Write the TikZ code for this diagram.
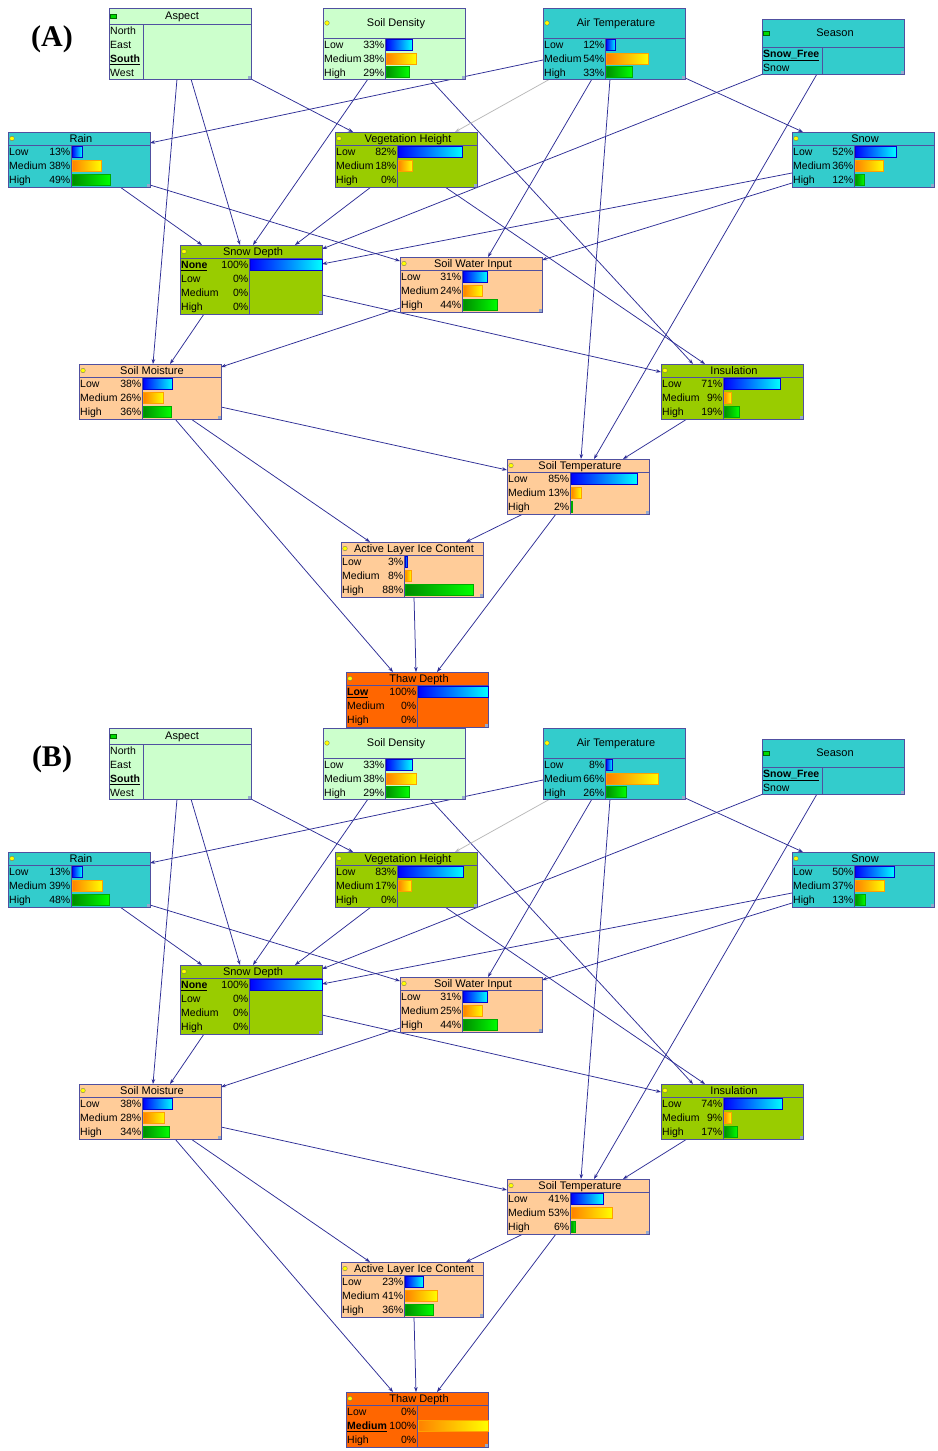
\documentclass[tikz,border=0pt]{standalone}
\usepackage{fontspec}
\setmainfont{Liberation Sans}
\newfontfamily\panelfont{Liberation Serif}
\usetikzlibrary{arrows.meta}
\pgfdeclarelayer{back}
\pgfdeclarelayer{bg}
\pgfsetlayers{back,bg,main}
\definecolor{cLG}{RGB}{204,255,204}
\definecolor{cTe}{RGB}{51,204,204}
\definecolor{cOl}{RGB}{153,204,0}
\definecolor{cPe}{RGB}{255,204,153}
\definecolor{cOr}{RGB}{255,102,0}
\definecolor{cBd}{RGB}{80,80,160}
\definecolor{cEd}{RGB}{45,45,150}
\definecolor{cGr}{RGB}{185,185,185}
\definecolor{cCorner}{RGB}{150,170,205}
\definecolor{bB1}{RGB}{0,0,255}
\definecolor{bB2}{RGB}{0,255,255}
\definecolor{bBd}{RGB}{0,0,210}
\definecolor{bO1}{RGB}{255,128,0}
\definecolor{bO2}{RGB}{255,255,0}
\definecolor{bOd}{RGB}{255,160,0}
\definecolor{bG1}{RGB}{0,140,0}
\definecolor{bG2}{RGB}{0,255,0}
\definecolor{bGd}{RGB}{0,170,0}
\definecolor{cYel}{RGB}{255,255,0}
\definecolor{cGrn}{RGB}{0,220,0}
\newcounter{rc}
\tikzset{
  bnbox/.style={draw=cBd, line width=0.9pt, minimum width=142pt, inner sep=0pt, outer sep=0pt, anchor=north west},
  bnline/.style={draw=cBd, line width=0.9pt},
  txt/.style={font=\fontsize{10.5}{12}\selectfont, inner sep=0pt, text height=7.6pt, text depth=0pt, text=black},
  ttl/.style={font=\fontsize{11}{13}\selectfont, inner sep=0pt, text height=7.8pt, text depth=0pt, text=black},
  icony/.style={circle, fill=cYel, draw=black!60, line width=0.3pt, minimum size=4.6pt, inner sep=0pt},
  icong/.style={rectangle, fill=cGrn, draw=green!40!black, line width=0.3pt, minimum width=6pt, minimum height=3.6pt, inner sep=0pt},
  lnk/.style={draw=cEd, line width=0.75pt, -{Stealth[length=5pt,width=3.6pt]}},
  glnk/.style={lnk, draw=cGr},
  barb/.style={draw=bBd, line width=0.8pt, left color=bB1, right color=bB2},
  baro/.style={draw=bOd, line width=0.8pt, left color=bO1, right color=bO2},
  barg/.style={draw=bGd, line width=0.8pt, left color=bG1, right color=bG2},
}
% #1 icon, #2 name, #3 x, #4 y, #5 h, #6 title h, #7 label column, #8 fill, #9 title
\newcommand\bnode[9][y]{%
  \node[bnbox, fill=#8, minimum height=#5pt] (#2) at (#3,#4) {};
  \draw[bnline] (#3,#4+#6) -- (#3+142,#4+#6);
  \draw[bnline] (#3+#7,#4+#6) -- (#3+#7,#4+#5);
  \node[ttl] (#2t) at (#3+73,#4+#6/2) {#9};
  \node[icon#1] (#2i) at (#3+4,#4+#6/2) {};
  \fill[cCorner] (#3+138.5,#4+#5-3.5) rectangle (#3+141.5,#4+#5-0.5);
}
% label only row: x, top, label
\newcommand\lrow[3]{%
  \stepcounter{rc}%
  \node[txt,anchor=west] (rl\arabic{rc}) at (#1+1,#2+7) {#3};
}
% row with value: x, col, top, label, pct, kind
\newcommand\brow[6]{%
  \stepcounter{rc}%
  \node[txt,anchor=west] (rl\arabic{rc}) at (#1+1,#3+7) {#4};
  \node[txt,anchor=east] (rp\arabic{rc}) at (#2-0.5,#3+7) {#5\%};
  \pgfmathtruncatemacro\barok{(#5)>0}%
  \ifnum\barok=1 \path[bar#6] (#2+1,#3+1.5) rectangle ({#2+1+(#5)/100*(#1+141-#2)},#3+12.5);\fi
}
% three rows: x, col, top, rowh, p1, p2, p3
\newcommand\tri[7]{%
  \brow{#1}{#2}{#3}{Low}{#5}{b}
  \brow{#1}{#2}{#3+#4}{Medium}{#6}{o}
  \brow{#1}{#2}{#3+2*#4}{High}{#7}{g}
}
\newcommand\alledges[1]{%
  \draw[lnk] ([shift={(82,71)}]asp#1.north west) -- ([shift={(60,0)}]sd#1.north west);
  \draw[lnk] ([shift={(68,71)}]asp#1.north west) -- ([shift={(74,0)}]sm#1.north west);
  \draw[lnk] ([shift={(142,71)}]asp#1.north west) -- ([shift={(18,0)}]veg#1.north west);
  \draw[lnk] ([shift={(45,71)}]sden#1.north west) -- ([shift={(73,0)}]sd#1.north west);
  \draw[lnk] ([shift={(107,71)}]sden#1.north west) -- ([shift={(32,0)}]ins#1.north west);
  \draw[lnk] ([shift={(0,52)}]air#1.north west) -- ([shift={(142,11)}]rain#1.north west);
  \draw[glnk] ([shift={(7,71)}]air#1.north west) -- ([shift={(120,0)}]veg#1.north west);
  \draw[lnk] ([shift={(140,69)}]air#1.north west) -- ([shift={(11,0)}]snow#1.north west);
  \draw[lnk] ([shift={(49,71)}]air#1.north west) -- ([shift={(88,0)}]swi#1.north west);
  \draw[lnk] ([shift={(67,71)}]air#1.north west) -- ([shift={(74,0)}]st#1.north west);
  \draw[lnk] ([shift={(1,55)}]sea#1.north west) -- ([shift={(142,4)}]sd#1.north west);
  \draw[lnk] ([shift={(55,55)}]sea#1.north west) -- ([shift={(87,0)}]st#1.north west);
  \draw[lnk] ([shift={(112,55)}]rain#1.north west) -- ([shift={(22,0)}]sd#1.north west);
  \draw[lnk] ([shift={(142,53)}]rain#1.north west) -- ([shift={(0,4)}]swi#1.north west);
  \draw[lnk] ([shift={(36,55)}]veg#1.north west) -- ([shift={(115,0)}]sd#1.north west);
  \draw[lnk] ([shift={(110,55)}]veg#1.north west) -- ([shift={(44,0)}]ins#1.north west);
  \draw[lnk] ([shift={(0,41)}]snow#1.north west) -- ([shift={(142,19)}]sd#1.north west);
  \draw[lnk] ([shift={(0,51)}]snow#1.north west) -- ([shift={(142,3)}]swi#1.north west);
  \draw[lnk] ([shift={(24,69)}]sd#1.north west) -- ([shift={(91,0)}]sm#1.north west);
  \draw[lnk] ([shift={(142,50)}]sd#1.north west) -- ([shift={(0,8)}]ins#1.north west);
  \draw[lnk] ([shift={(0,51)}]swi#1.north west) -- ([shift={(142,3)}]sm#1.north west);
  \draw[lnk] ([shift={(142,43)}]sm#1.north west) -- ([shift={(0,11)}]st#1.north west);
  \draw[lnk] ([shift={(112,55)}]sm#1.north west) -- ([shift={(29,0)}]alic#1.north west);
  \draw[lnk] ([shift={(96,55)}]sm#1.north west) -- ([shift={(47,0)}]td#1.north west);
  \draw[lnk] ([shift={(26,55)}]ins#1.north west) -- ([shift={(116,0)}]st#1.north west);
  \draw[lnk] ([shift={(16,55)}]st#1.north west) -- ([shift={(125,0)}]alic#1.north west);
  \draw[lnk] ([shift={(49,55)}]st#1.north west) -- ([shift={(91,0)}]td#1.north west);
  \draw[lnk] ([shift={(73,55)}]alic#1.north west) -- ([shift={(70,0)}]td#1.north west);
}
\begin{document}
\begin{tikzpicture}[x=1pt,y=-1pt]
\useasboundingbox (0,0) rectangle (937,1451);
\begin{pgfonlayer}{back}
\fill[white] (0,0) rectangle (937,1451);
\end{pgfonlayer}

%%%%%%%%%%%%%%%% Panel A
\node[font=\panelfont\bfseries\fontsize{30}{32}\selectfont, inner sep=0pt] (labA) at (52,39) {(A)};
\bnode[g]{aspA}{109}{8}{71}{16}{34}{cLG}{Aspect}
\lrow{109}{24}{North}\lrow{109}{37.75}{East}\lrow{109}{51.5}{\textbf{\underline{South}}}\lrow{109}{65.25}{West}
\bnode{sdenA}{323}{8}{71}{30}{62}{cLG}{Soil Density}
\tri{323}{385}{38}{13.67}{33}{38}{29}
\bnode{airA}{543}{8}{71}{30}{62}{cTe}{Air Temperature}
\tri{543}{605}{38}{13.67}{12}{54}{33}
\bnode[g]{seaA}{762}{19}{55}{28}{60}{cTe}{Season}
\lrow{762}{47}{\textbf{\underline{Snow\_Free}}}\lrow{762}{60.5}{Snow}
\bnode{rainA}{8}{132}{55}{13}{63}{cTe}{Rain}
\tri{8}{71}{145}{14}{13}{38}{49}
\bnode{vegA}{335}{132}{55}{13}{62}{cOl}{Vegetation Height}
\tri{335}{397}{145}{14}{82}{18}{0}
\bnode{snowA}{792}{132}{55}{13}{62}{cTe}{Snow}
\tri{792}{854}{145}{14}{52}{36}{12}
\bnode{sdA}{180}{245}{69}{13}{69}{cOl}{Snow Depth}
\brow{180}{249}{258}{\textbf{\underline{None}}}{100}{b}
\brow{180}{249}{272}{Low}{0}{b}
\brow{180}{249}{286}{Medium}{0}{o}
\brow{180}{249}{300}{High}{0}{g}
\bnode{swiA}{400}{257}{55}{13}{62}{cPe}{Soil Water Input}
\tri{400}{462}{270}{14}{31}{24}{44}
\bnode{smA}{79}{364}{55}{13}{63}{cPe}{Soil Moisture}
\tri{79}{142}{377}{14}{38}{26}{36}
\bnode{insA}{661}{364}{55}{13}{62}{cOl}{Insulation}
\tri{661}{723}{377}{14}{71}{9}{19}
\bnode{stA}{507}{459}{55}{13}{63}{cPe}{Soil Temperature}
\tri{507}{570}{472}{14}{85}{13}{2}
\bnode{alicA}{341}{542}{55}{13}{63}{cPe}{Active Layer Ice Content}
\tri{341}{404}{555}{14}{3}{8}{88}
\bnode{tdA}{346}{672}{55}{13}{71}{cOr}{Thaw Depth}
\brow{346}{417}{685}{\textbf{\underline{Low}}}{100}{b}
\brow{346}{417}{699}{Medium}{0}{o}
\brow{346}{417}{713}{High}{0}{g}

%%%%%%%%%%%%%%%% Panel B
\begin{scope}[yshift=-720pt]
\node[font=\panelfont\bfseries\fontsize{30}{32}\selectfont, inner sep=0pt] (labB) at (52,39) {(B)};
\bnode[g]{aspB}{109}{8}{71}{16}{34}{cLG}{Aspect}
\lrow{109}{24}{North}\lrow{109}{37.75}{East}\lrow{109}{51.5}{\textbf{\underline{South}}}\lrow{109}{65.25}{West}
\bnode{sdenB}{323}{8}{71}{30}{62}{cLG}{Soil Density}
\tri{323}{385}{38}{13.67}{33}{38}{29}
\bnode{airB}{543}{8}{71}{30}{62}{cTe}{Air Temperature}
\tri{543}{605}{38}{13.67}{8}{66}{26}
\bnode[g]{seaB}{762}{19}{55}{28}{60}{cTe}{Season}
\lrow{762}{47}{\textbf{\underline{Snow\_Free}}}\lrow{762}{60.5}{Snow}
\bnode{rainB}{8}{132}{55}{13}{63}{cTe}{Rain}
\tri{8}{71}{145}{14}{13}{39}{48}
\bnode{vegB}{335}{132}{55}{13}{62}{cOl}{Vegetation Height}
\tri{335}{397}{145}{14}{83}{17}{0}
\bnode{snowB}{792}{132}{55}{13}{62}{cTe}{Snow}
\tri{792}{854}{145}{14}{50}{37}{13}
\bnode{sdB}{180}{245}{69}{13}{69}{cOl}{Snow Depth}
\brow{180}{249}{258}{\textbf{\underline{None}}}{100}{b}
\brow{180}{249}{272}{Low}{0}{b}
\brow{180}{249}{286}{Medium}{0}{o}
\brow{180}{249}{300}{High}{0}{g}
\bnode{swiB}{400}{257}{55}{13}{62}{cPe}{Soil Water Input}
\tri{400}{462}{270}{14}{31}{25}{44}
\bnode{smB}{79}{364}{55}{13}{63}{cPe}{Soil Moisture}
\tri{79}{142}{377}{14}{38}{28}{34}
\bnode{insB}{661}{364}{55}{13}{62}{cOl}{Insulation}
\tri{661}{723}{377}{14}{74}{9}{17}
\bnode{stB}{507}{459}{55}{13}{63}{cPe}{Soil Temperature}
\tri{507}{570}{472}{14}{41}{53}{6}
\bnode{alicB}{341}{542}{55}{13}{63}{cPe}{Active Layer Ice Content}
\tri{341}{404}{555}{14}{23}{41}{36}
\bnode{tdB}{346}{672}{55}{13}{71}{cOr}{Thaw Depth}
\brow{346}{417}{685}{Low}{0}{b}
\brow{346}{417}{699}{\textbf{\underline{Medium}}}{100}{o}
\brow{346}{417}{713}{High}{0}{g}
\end{scope}

\begin{pgfonlayer}{bg}
\alledges{A}
\alledges{B}
\end{pgfonlayer}
\end{tikzpicture}
\end{document}
